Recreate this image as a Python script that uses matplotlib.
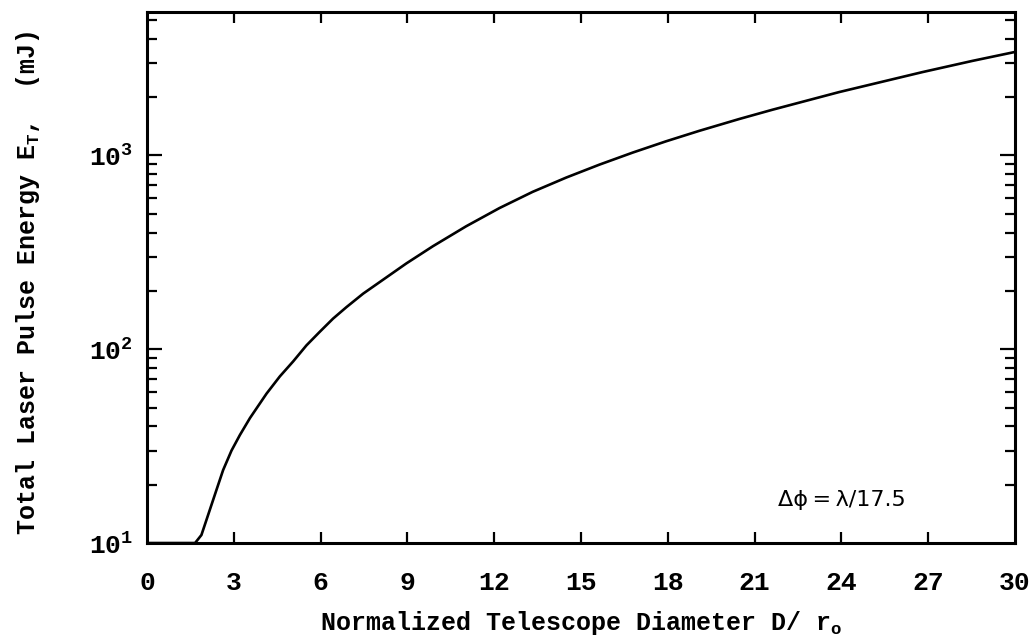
import numpy as np
import matplotlib
matplotlib.use("Agg")
import matplotlib.pyplot as plt
from matplotlib.ticker import LogLocator, FixedLocator, NullFormatter, FuncFormatter

# total pulse energy vs normalized aperture
d_over_r0 = [0.0, 1.66, 1.88, 2.40, 2.63, 2.92, 3.21, 3.56, 4.13, 4.59, 5.05, 5.51,
             5.97, 6.43, 6.89, 7.47, 8.04, 8.96, 9.88, 11.03, 12.18, 13.33, 14.49,
             15.64, 16.79, 17.94, 19.09, 20.47, 21.62, 23.92, 26.80, 28.53, 30.0]
energy_mj = [10.0, 10.0, 11.0, 18.8, 23.8, 30.0, 36.1, 44.2, 59.0, 72.4, 86.5, 104.7,
             123.0, 143.9, 164.8, 193.6, 222.0, 277.0, 340.0, 431.0, 535.0, 649.0, 769.0,
             897.0, 1035.0, 1183.0, 1340.0, 1542.0, 1722.0, 2123.0, 2692.0, 3076.0, 3420.0]

x_ticks = [0, 3, 6, 9, 12, 15, 18, 21, 24, 27, 30]
y_ticks = [10, 100, 1000]

plt.rcParams['mathtext.fontset'] = 'custom'
plt.rcParams['mathtext.rm'] = 'Liberation Mono:bold'
plt.rcParams['mathtext.it'] = 'Liberation Mono:bold'
plt.rcParams['mathtext.bf'] = 'Liberation Mono:bold'

mono = dict(family='Liberation Mono', weight='bold')

fig = plt.figure(figsize=(10.34, 6.44), dpi=100)
ax = fig.add_axes([0.1422, 0.1568, 0.8394, 0.8246])

ax.plot(d_over_r0, energy_mj, color='black', lw=1.9, solid_joinstyle='round')

ax.set_yscale('log')
ax.set_xlim(0, 30)
ax.set_ylim(10, 5500)

ax.xaxis.set_major_locator(FixedLocator(x_ticks))
ax.yaxis.set_major_locator(FixedLocator(y_ticks))
ax.yaxis.set_minor_locator(LogLocator(base=10, subs=np.arange(2, 10)))
ax.yaxis.set_minor_formatter(NullFormatter())
ax.yaxis.set_major_formatter(FuncFormatter(
    lambda v, p: r'$\mathregular{10^{%d}}$' % round(np.log10(v))))

for s in ax.spines.values():
    s.set_linewidth(2.2)

ax.tick_params(axis='both', which='both', direction='in', top=True, right=True,
               width=1.6, color='black')
ax.tick_params(axis='x', which='major', length=8, pad=20, labelsize=19)
ax.tick_params(axis='y', which='major', length=11, pad=10, labelsize=19)
ax.tick_params(axis='y', which='minor', length=7)

for lbl in ax.get_xticklabels() + ax.get_yticklabels():
    lbl.set_fontfamily('Liberation Mono')
    lbl.set_fontweight('bold')

# hide the end ticks that would sit on the frame
for t in (ax.xaxis.get_major_ticks()[0], ax.xaxis.get_major_ticks()[-1],
          ax.yaxis.get_major_ticks()[0]):
    t.tick1line.set_visible(False)
    t.tick2line.set_visible(False)

ax.set_xlabel(r'Normalized Telescope Diameter D/ r$_\mathregular{o}$',
              fontsize=18, labelpad=10, **mono)
ax.set_ylabel(r'Total Laser Pulse Energy E$_\mathregular{T}$,  (mJ)',
              fontsize=18, **mono)
ax.yaxis.set_label_coords(-0.121, 0.49)

ax.text(21.8, 16.6, '\u0394\u03d5\u2009=\u2009\u03bb/17.5', fontsize=16,
        family='DejaVu Sans', va='center', ha='left', color='black')

fig.savefig('out.png', dpi=100)
